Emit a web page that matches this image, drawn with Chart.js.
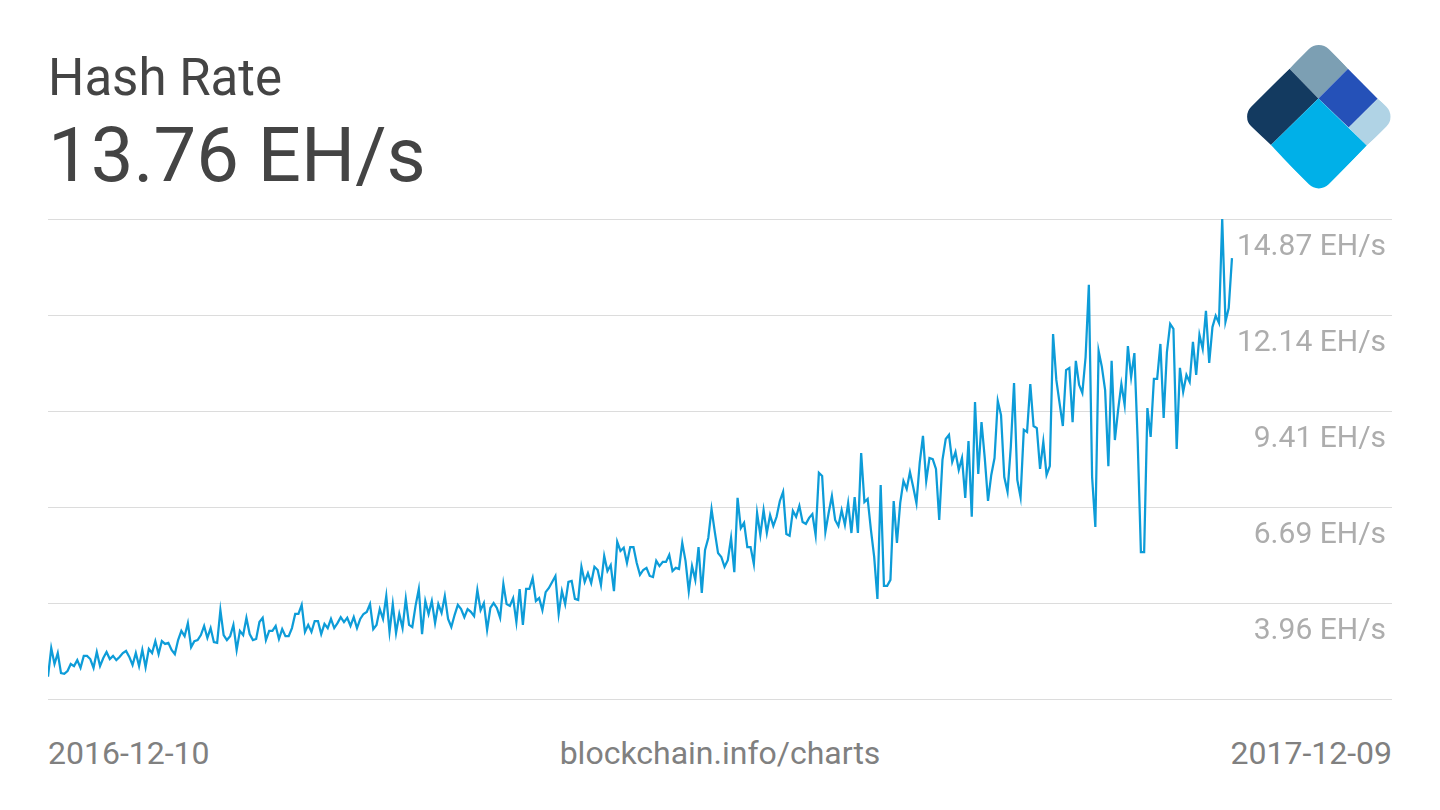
<!DOCTYPE html>
<html>
<head>
<meta charset="utf-8">
<title>Hash Rate</title>
<script src="https://cdn.jsdelivr.net/npm/chart.js@4/dist/chart.umd.min.js"></script>
<style>
  html, body { margin: 0; padding: 0; background: #fff; }
  body { width: 1440px; height: 810px; overflow: hidden; position: relative; font-family: Roboto, sans-serif; }
  canvas { position: absolute; left: 0; top: 0; }
  .txt { position: absolute; white-space: nowrap; line-height: 1; }
  #name { left: 48px; top: 52px; font-size: 51px; color: #444; }
  #latest { left: 48px; top: 117px; font-size: 76px; color: #444; }
  .foot { top: 737px; font-size: 32px; color: #808080; }
  #start { left: 48px; }
  #site { left: 0; width: 1440px; text-align: center; }
  #end { right: 48px; }
  #logo { position: absolute; left: 1240px; top: 36px; }
</style>
</head>
<body>
<div class="txt" id="name"></div>
<div class="txt" id="latest"></div>
<div class="txt foot" id="start"></div>
<div class="txt foot" id="site"></div>
<div class="txt foot" id="end"></div>
<svg id="logo" width="160" height="160" viewBox="1240 36 160 160">
  <defs>
    <clipPath id="diamond">
      <rect x="1264" y="61.9" width="109.6" height="109.6" rx="14" transform="rotate(45 1318.8 116.7)"/>
    </clipPath>
  </defs>
  <g clip-path="url(#diamond)">
    <polygon fill="#7c9fb3" points="1318.4,98.4 1348,68.7 1318.4,36 1289.5,68.7"/>
    <polygon fill="#133a60" points="1289.5,68.7 1318.4,98.4 1271,145 1240,116"/>
    <polygon fill="#2551b8" points="1318.4,98.4 1348,68.7 1377.7,98.7 1348.7,127.5"/>
    <polygon fill="#b0d3e5" points="1377.7,98.7 1400,116 1366.7,145.5 1348.7,127.5"/>
    <polygon fill="#00b0e8" points="1318.4,98.4 1366.7,145.5 1318.4,196 1271,145"/>
  </g>
</svg>
<canvas id="hashChart" width="1440" height="810"></canvas>
<script>
const chartName = 'Hash Rate';
const latestLabel = '13.76 EH/s';
const startDate = '2016-12-10';
const endDate = '2017-12-09';
const siteLabel = 'blockchain.info/charts';
const unit = ' EH/s';

// tick values, the bottom grid line has no label in the picture
const yTicks = [1.235, 3.96, 6.685, 9.41, 12.14, 14.87];
const yLabels = ['', '3.96', '6.69', '9.41', '12.14', '14.87'];

// daily hash rate in EH/s
const hashRate = [
  1.87, 2.68, 2.23, 2.54, 1.97, 1.95, 2.03, 2.23, 2.17, 2.34, 2.12, 2.46, 2.46, 2.37, 2.12, 2.57, 2.17, 2.40, 2.57, 2.37,
  2.46, 2.34, 2.43, 2.54, 2.60, 2.43, 2.20, 2.54, 2.17, 2.63, 2.14, 2.66, 2.54, 2.88, 2.51, 2.88, 2.80, 2.83, 2.63, 2.51,
  2.91, 3.17, 3.02, 3.39, 2.71, 2.88, 2.91, 3.05, 3.31, 2.97, 3.25, 2.85, 2.83, 3.76, 3.05, 2.91, 3.02, 3.34, 2.63, 3.17,
  3.05, 3.54, 3.08, 2.91, 2.94, 3.42, 3.54, 2.91, 3.17, 3.17, 3.31, 2.94, 3.22, 3.02, 3.02, 3.25, 3.65, 3.65, 3.91, 3.14,
  3.34, 3.14, 3.45, 3.45, 3.08, 3.37, 3.25, 3.51, 3.25, 3.39, 3.56, 3.42, 3.54, 3.31, 3.56, 3.25, 3.51, 3.65, 3.71, 3.93,
  3.22, 3.34, 3.79, 3.51, 4.16, 3.14, 3.93, 3.11, 3.65, 3.25, 4.08, 3.34, 3.28, 3.88, 4.36, 3.08, 4.02, 3.65, 4.02, 3.39,
  3.93, 3.68, 4.16, 3.51, 3.28, 3.62, 3.91, 3.79, 3.56, 3.79, 3.71, 3.59, 4.33, 3.76, 3.96, 3.20, 3.82, 3.96, 3.82, 3.54,
  4.50, 3.93, 3.88, 4.10, 3.42, 4.36, 3.34, 4.36, 4.36, 4.67, 4.02, 4.10, 3.76, 4.27, 4.39, 4.56, 4.73, 3.65, 4.30, 3.93,
  4.56, 4.59, 4.08, 4.05, 4.99, 4.56, 4.81, 4.53, 4.99, 4.90, 4.47, 5.30, 4.87, 5.04, 4.30, 5.70, 5.44, 5.53, 5.10, 5.55,
  5.55, 5.10, 4.76, 4.90, 4.96, 4.73, 4.70, 5.16, 5.01, 5.13, 5.13, 5.33, 4.87, 4.96, 4.93, 5.67, 5.16, 4.30, 5.01, 4.62,
  5.55, 4.25, 5.47, 5.81, 6.63, 5.98, 5.38, 5.27, 4.99, 5.18, 5.81, 4.84, 6.95, 6.09, 6.24, 5.55, 5.55, 5.07, 6.52, 5.89,
  6.60, 5.95, 6.46, 6.15, 6.41, 6.86, 7.12, 5.92, 5.87, 6.58, 6.41, 6.72, 6.26, 6.21, 6.38, 6.49, 5.89, 7.66, 7.57, 5.98,
  6.52, 7.00, 6.32, 6.15, 6.60, 6.18, 6.80, 5.95, 6.97, 5.95, 8.22, 6.83, 6.92, 6.04, 5.27, 4.08, 7.31, 4.45, 4.45, 4.62,
  6.86, 5.67, 6.80, 7.43, 7.20, 7.68, 7.26, 6.80, 7.94, 8.71, 7.43, 8.08, 8.05, 7.77, 6.32, 8.03, 8.62, 8.74, 7.97, 8.25,
  7.74, 8.08, 6.95, 8.56, 6.41, 9.67, 7.63, 9.10, 8.08, 6.86, 7.60, 8.08, 9.70, 9.30, 7.54, 7.12, 8.39, 10.21, 7.46, 6.97,
  8.88, 8.82, 10.18, 8.99, 8.93, 7.77, 8.54, 7.60, 7.85, 11.60, 10.30, 9.64, 8.99, 10.58, 10.64, 9.10, 10.84, 10.16, 9.93, 10.95,
  13.00, 7.54, 6.12, 11.12, 10.67, 10.01, 7.85, 10.84, 8.59, 9.45, 10.18, 9.59, 11.26, 10.38, 11.06, 8.59, 5.41, 5.41, 9.50, 8.68,
  10.33, 10.33, 11.32, 9.22, 11.09, 11.89, 11.75, 8.34, 10.64, 9.96, 10.44, 10.24, 11.38, 10.44, 11.58, 11.18, 12.26, 10.78, 11.80, 12.12,
  11.92, 14.87, 11.95, 12.34, 13.76
];

// the line stops short of the right edge to leave room for the labels
const xMax = 413.2;

document.getElementById('name').textContent = chartName;
document.getElementById('latest').textContent = latestLabel;
document.getElementById('start').textContent = startDate;
document.getElementById('site').textContent = siteLabel;
document.getElementById('end').textContent = endDate;

var ctx = document.getElementById('hashChart').getContext('2d');
var chart = new Chart(ctx, {
  type: 'line',
  data: {
    datasets: [{
      data: hashRate.map((v, i) => ({ x: i, y: v })),
      borderColor: '#0d9cd8',
      borderWidth: 2.25,
      pointRadius: 0,
      tension: 0,
      fill: false
    }]
  },
  options: {
    responsive: false,
    animation: false,
    layout: { padding: { left: 48, right: 48, top: 219, bottom: 111 } },
    plugins: { legend: { display: false }, tooltip: { enabled: false } },
    scales: {
      x: { type: 'linear', min: 0, max: xMax, display: false },
      y: {
        position: 'right',
        min: yTicks[0],
        max: yTicks[yTicks.length - 1],
        afterBuildTicks: scale => { scale.ticks = yTicks.map(v => ({ value: v })); },
        afterFit: scale => { scale.width = 0; },
        border: { display: false },
        grid: { color: '#dcdcdc', lineWidth: 1, drawTicks: false },
        ticks: {
          mirror: true,
          padding: -6,
          labelOffset: 28,
          color: '#adadad',
          font: { family: 'Roboto', size: 30 },
          autoSkip: false,
          callback: (v, i) => yLabels[i] ? yLabels[i] + unit : ''
        }
      }
    }
  }
});
</script>
</body>
</html>
